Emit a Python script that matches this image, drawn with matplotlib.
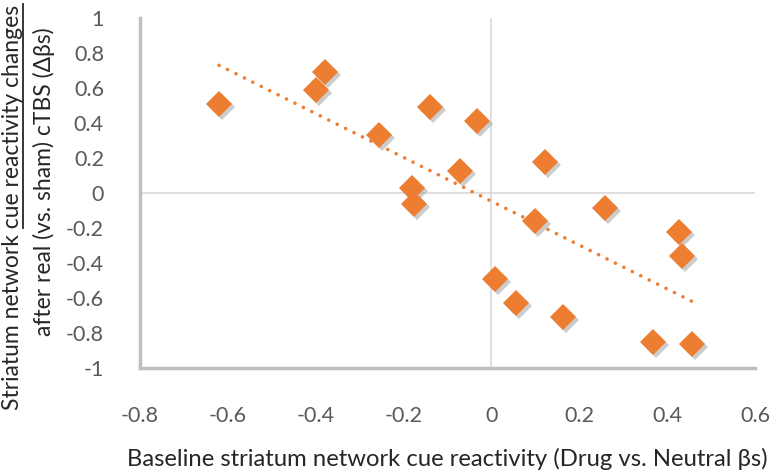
import matplotlib
matplotlib.use("Agg")
import matplotlib.pyplot as plt
import matplotlib.transforms as mtransforms
import numpy as np

plt.rcParams['font.family'] = ['Lato', 'DejaVu Sans']

# baseline cue reactivity vs change after cTBS
baseline = np.array([-0.62, -0.38, -0.40, -0.256, -0.139, -0.032, -0.071, -0.18, -0.176,
                     0.123, 0.258, 0.099, 0.427, 0.434, 0.009, 0.055, 0.162, 0.368, 0.457])
change = np.array([0.51, 0.69, 0.59, 0.33, 0.49, 0.41, 0.126, 0.03, -0.06,
                   0.18, -0.085, -0.16, -0.22, -0.36, -0.49, -0.63, -0.71, -0.85, -0.86])

xticks = [-0.8, -0.6, -0.4, -0.2, 0, 0.2, 0.4, 0.6]
yticks = [-1, -0.8, -0.6, -0.4, -0.2, 0, 0.2, 0.4, 0.6, 0.8, 1]

orange = '#ED7D31'
tick_gray = '#595959'
fs_title = 16.5

fig = plt.figure(figsize=(7.72, 4.71), dpi=100)
ax = fig.add_axes([140 / 772, 1 - 368 / 471, (755 - 140) / 772, (368 - 18) / 471])

ax.set_xlim(-0.8, 0.6)
ax.set_ylim(-1, 1)

ax.axhline(0, color='#D9D9D9', lw=1.2, zorder=1)
ax.axvline(0, color='#D9D9D9', lw=1.2, zorder=1)

# linear trend line
slope, intercept = np.polyfit(baseline, change, 1)
tx = np.array([baseline.min(), baseline.max()])
ax.plot(tx, slope * tx + intercept, color=orange, lw=2.6,
        linestyle=(0, (0.01, 2.6)), dash_capstyle='round', zorder=2)

# shadow then diamonds
shadow = mtransforms.offset_copy(ax.transData, fig=fig, x=3, y=-3, units='dots')
ax.plot(baseline, change, 'D', ms=13.5, color='#9a9a9a', alpha=0.5,
        markeredgewidth=0, transform=shadow, zorder=3)
ax.plot(baseline, change, 'D', ms=13.5, color=orange, markeredgewidth=0, zorder=4)

for s in ['top', 'right']:
    ax.spines[s].set_visible(False)
for s in ['left', 'bottom']:
    ax.spines[s].set_color('#BFBFBF')
    ax.spines[s].set_linewidth(2.5)

ax.set_xticks(xticks)
ax.set_xticklabels([f'{v:g}' for v in xticks])
ax.set_yticks(yticks)
ax.set_yticklabels([f'{v:g}' for v in yticks])
ax.tick_params(length=0, labelsize=15.5, labelcolor=tick_gray)
ax.tick_params(axis='x', pad=27)
ax.tick_params(axis='y', pad=26)

ax.set_xlabel('Baseline striatum network cue reactivity (Drug vs. Neutral βs)',
              fontsize=17.2, color='#262626', labelpad=16)

# two-line y title, "cue reactivity changes" underlined
fig.canvas.draw()
r = fig.canvas.get_renderer()
prefix = 'Striatum network '
line1 = prefix + 'cue reactivity changes'
t1 = fig.text(13 / 772, 1 - 207 / 471, line1, rotation=90, fontsize=fs_title,
              color='#262626', ha='center', va='center')
t2 = fig.text(44 / 772, 1 - 182 / 471, 'after real (vs. sham) cTBS (Δβs)', rotation=90,
              fontsize=fs_title, color='#262626', ha='center', va='center')
tp = fig.text(0, 0, prefix, fontsize=fs_title)
full_w = fig.text(0, 0, line1, fontsize=fs_title)
w_pre = tp.get_window_extent(r).width
w_full = full_w.get_window_extent(r).width
tp.remove()
full_w.remove()
bb = t1.get_window_extent(r)
y0 = bb.y0 + w_pre
y1 = bb.y0 + w_full
ux = bb.x1 - 1
fig.add_artist(plt.Line2D([ux / 772, ux / 772], [y0 / 471, y1 / 471],
                          transform=fig.transFigure, color='#262626', lw=1.3))

fig.savefig('out.png', dpi=100)
